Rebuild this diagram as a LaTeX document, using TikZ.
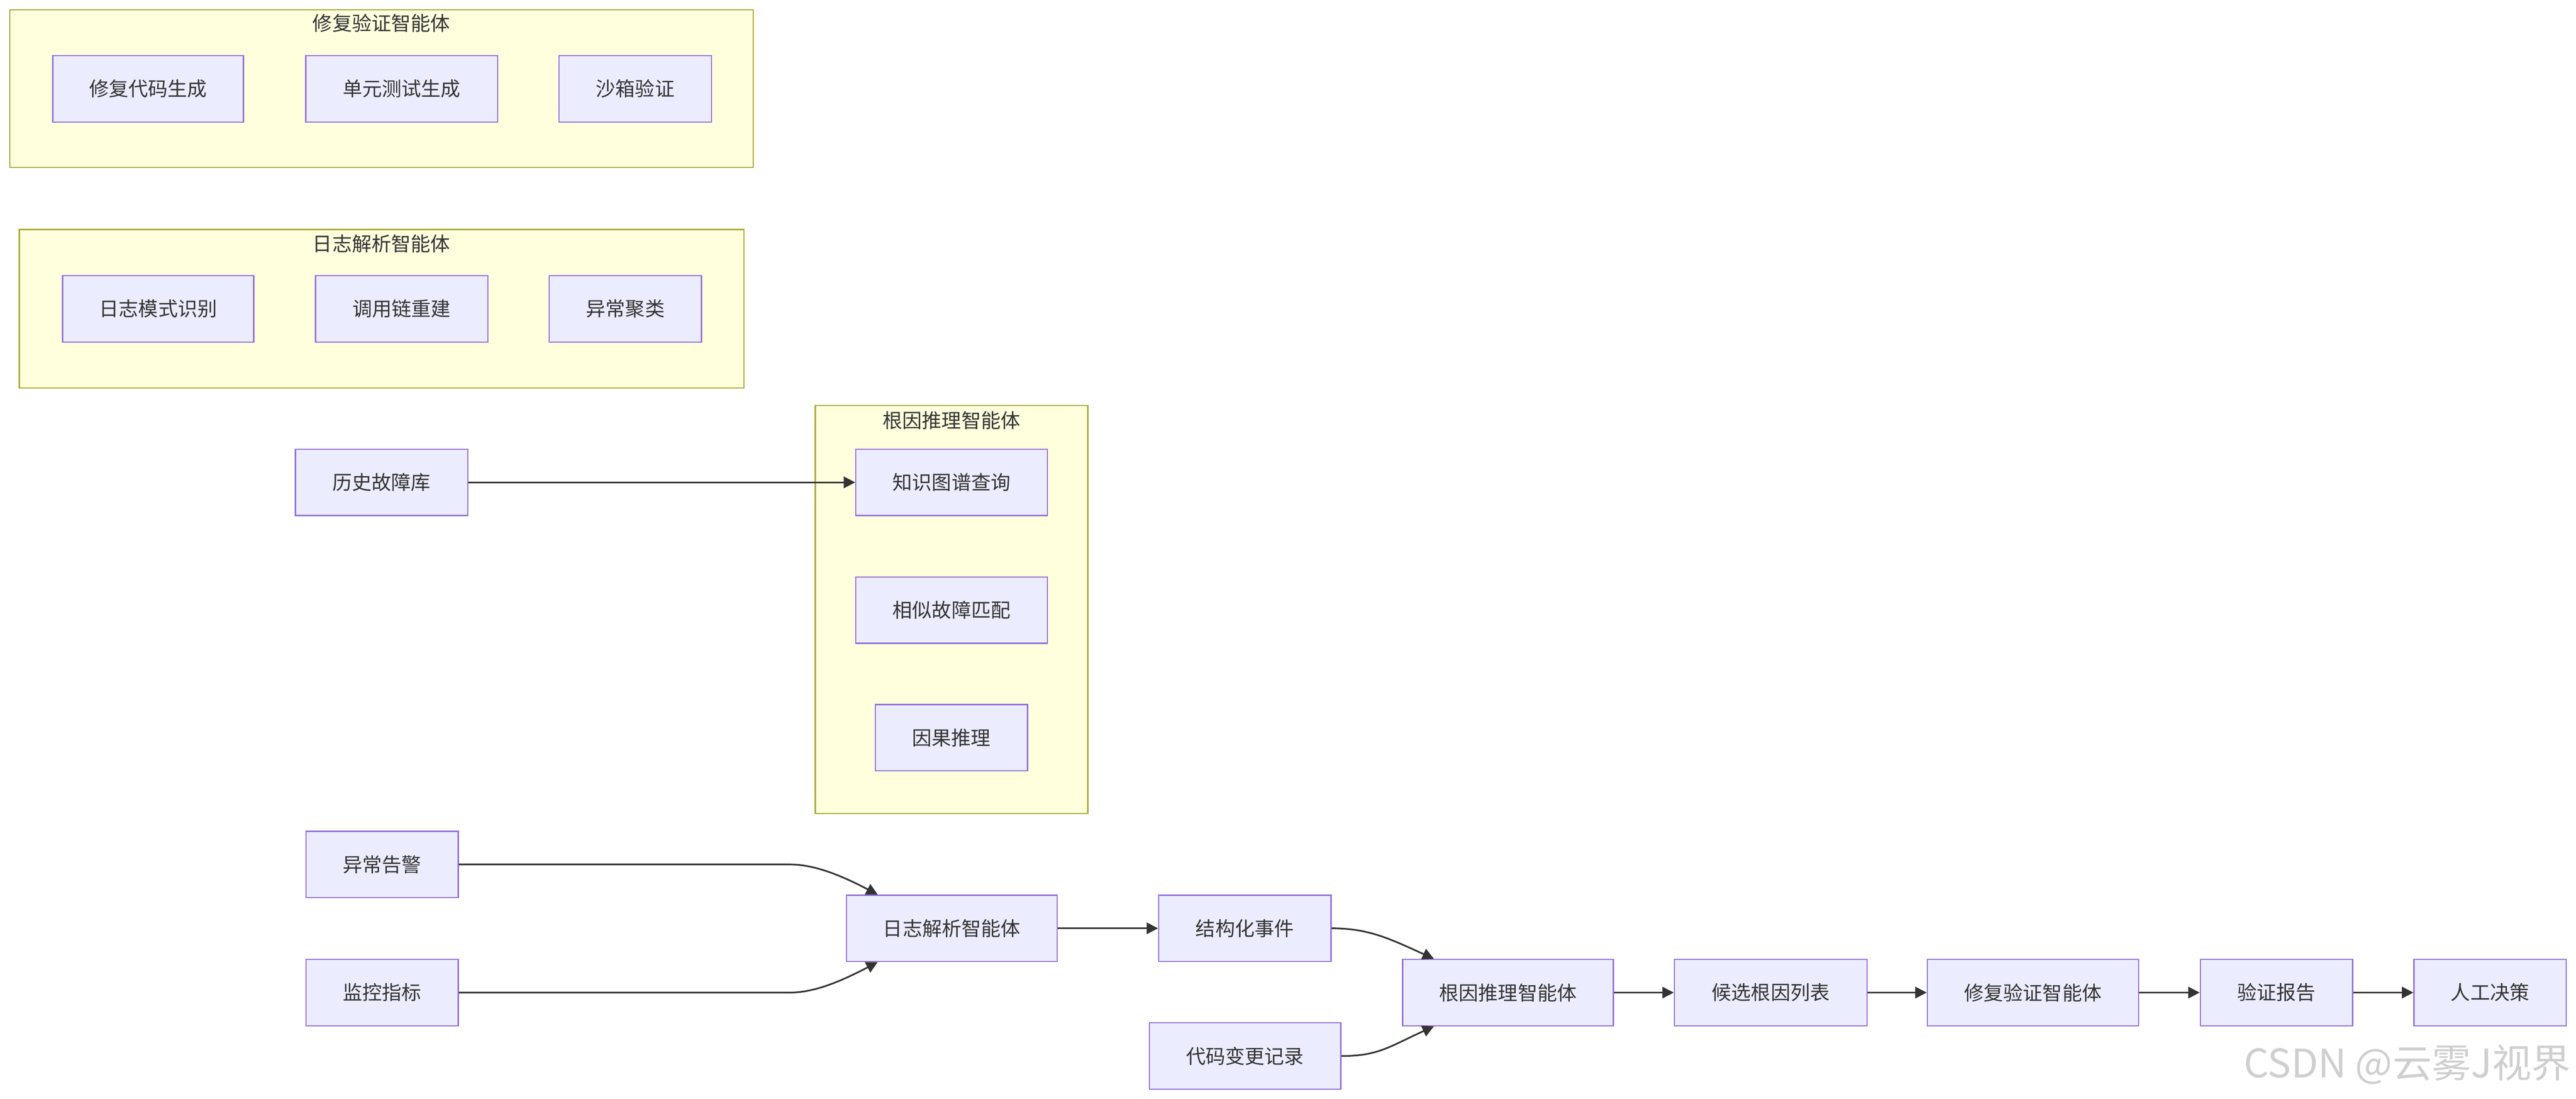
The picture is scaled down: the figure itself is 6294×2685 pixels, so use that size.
\documentclass[tikz,border=0pt]{standalone}
\usepackage{fontspec}
\setmainfont{Noto Sans CJK SC}
\usetikzlibrary{arrows.meta,calc}
\definecolor{nodefill}{HTML}{ECECFF}
\definecolor{nodeline}{HTML}{9370DB}
\definecolor{clfill}{HTML}{FFFFDE}
\definecolor{clline}{HTML}{AAAA33}
\definecolor{txt}{HTML}{333333}
\definecolor{wm}{HTML}{CFCFCF}
\begin{document}
\begin{tikzpicture}[x=0.25pt,y=-0.25pt,
  box/.style={draw=nodeline,fill=nodefill,line width=0.75pt,minimum height=40.5pt,inner sep=0pt,text=txt,font=\fontsize{12}{14}\selectfont},
  cluster/.style={draw=clline,fill=clfill,line width=0.75pt},
  ctitle/.style={text=txt,font=\fontsize{12}{14}\selectfont,inner sep=0pt},
  flow/.style={draw=txt,line width=1pt,-{Triangle[length=7pt,width=7pt]}}]
\useasboundingbox (0,0) rectangle (6294,2685);
% clusters
\draw[cluster] (24,24) rectangle (1840,409);
\node[ctitle] (t1) at (932,57) {修复验证智能体};
\draw[cluster] (47,561) rectangle (1818,948);
\node[ctitle] (t2) at (932,595) {日志解析智能体};
\draw[cluster] (1992,991) rectangle (2658,1988);
\node[ctitle] (t3) at (2325,1027) {根因推理智能体};
% cluster 1 nodes
\node[box,minimum width=116.5pt] (fx) at (362,217) {修复代码生成};
\node[box,minimum width=117.25pt] (ut) at (981.5,217) {单元测试生成};
\node[box,minimum width=93pt] (sb) at (1552,217) {沙箱验证};
% cluster 2 nodes
\node[box,minimum width=116.75pt] (lp) at (386.5,754.5) {日志模式识别};
\node[box,minimum width=105.25pt] (cc) at (981.5,754.5) {调用链重建};
\node[box,minimum width=93pt] (ac) at (1528,754.5) {异常聚类};
% cluster 3 nodes
\node[box,minimum width=117pt] (kg) at (2325,1178.5) {知识图谱查询};
\node[box,minimum width=117pt] (sm) at (2325,1490.5) {相似故障匹配};
\node[box,minimum width=93pt] (ci) at (2324.5,1802.5) {因果推理};
% others
\node[box,minimum width=105.25pt] (hist) at (932.5,1178.5) {历史故障库};
\node[box,minimum width=93pt] (alarm) at (933.5,2112) {异常告警};
\node[box,minimum width=93pt] (mon) at (933.5,2425) {监控指标};
\node[box,minimum width=128.75pt] (logn) at (2325.5,2268) {日志解析智能体};
\node[box,minimum width=105.25pt] (ev) at (3041.5,2268) {结构化事件};
\node[box,minimum width=117pt] (code) at (3042,2580) {代码变更记录};
\node[box,minimum width=128.75pt] (root) at (3684.5,2425) {根因推理智能体};
\node[box,minimum width=117.75pt] (cand) at (4326.5,2425) {候选根因列表};
\node[box,minimum width=129pt] (rep) at (4967,2425) {修复验证智能体};
\node[box,minimum width=93pt] (vr) at (5562,2425) {验证报告};
\node[box,minimum width=93pt] (hd) at (6084,2425) {人工决策};
% helper coordinates
\coordinate (ka) at (1930,2112);
\coordinate (kb) at (1930,2425);
% edges
\draw[flow] (hist) -- (kg);
\draw[flow] (alarm.east) -- (ka) .. controls +(60,0) and +(-90,-47) .. ([xshift=19.5pt]logn.north west);
\draw[flow] (mon.east) -- (kb) .. controls +(60,0) and +(-90,47) .. ([xshift=19.5pt]logn.south west);
\draw[flow] (logn) -- (ev);
\draw[flow] (ev.east) .. controls +(90,0) and +(-110,-50) .. ([xshift=19.5pt]root.north west);
\draw[flow] (code.east) .. controls +(90,0) and +(-110,50) .. ([xshift=19.5pt]root.south west);
\draw[flow] (root) -- (cand);
\draw[flow] (cand) -- (rep);
\draw[flow] (rep) -- (vr);
\draw[flow] (vr) -- (hd);
% watermark
\node[anchor=south east,text=wm,font=\fontsize{24}{24}\selectfont,inner sep=0pt] (wmk) at (6282,2650) {CSDN @云雾J视界};
\end{tikzpicture}
\end{document}
